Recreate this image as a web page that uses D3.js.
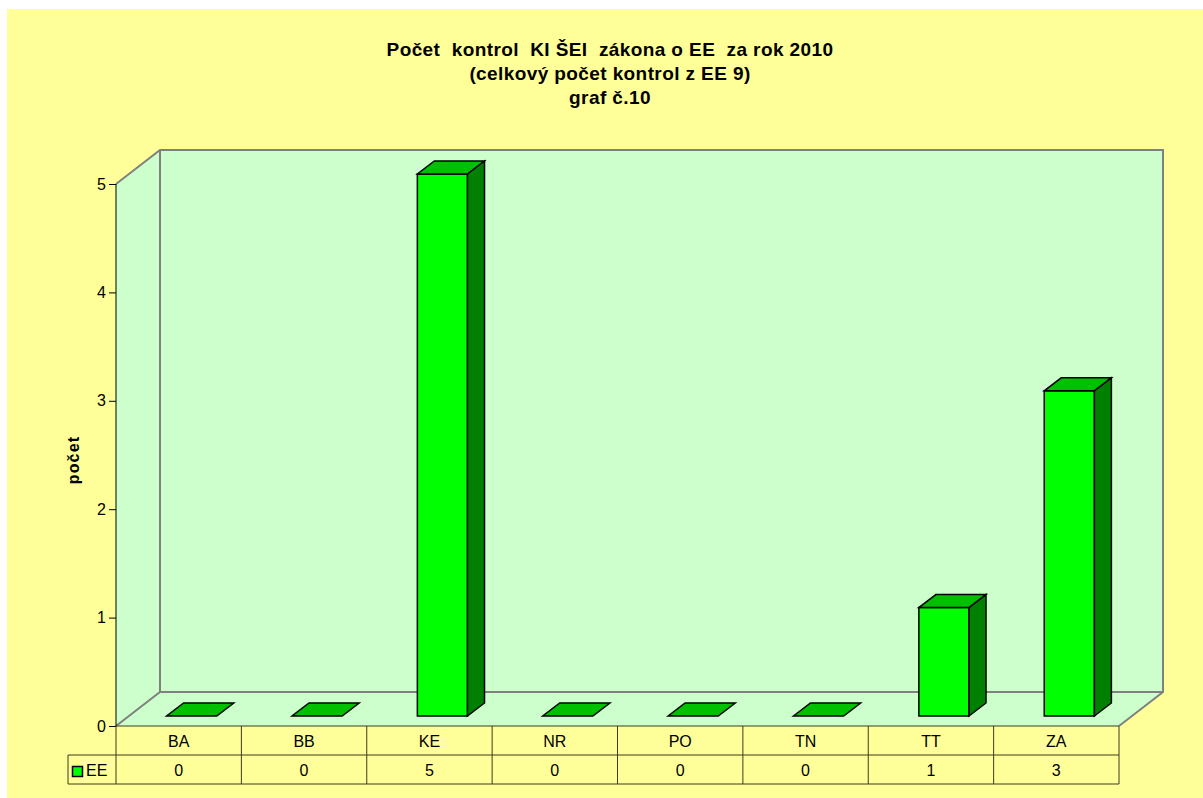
<!DOCTYPE html>
<html><head><meta charset="utf-8">
<script src="https://cdn.jsdelivr.net/npm/d3@7"></script>
<style>body{margin:0;background:#fff}svg{display:block}text{white-space:pre}</style>
</head><body>
<script>
const categories = ["BA","BB","KE","NR","PO","TN","TT","ZA"];
const seriesName = "EE";
const values = [0,0,5,0,0,0,1,3];
const yTicks = [0,1,2,3,4,5];
const titleLines = ["Počet  kontrol  KI ŠEI  zákona o EE  za rok 2010","(celkový počet kontrol z EE 9)","graf č.10"];
const yLabel = "počet";

const W = 1203, H = 798;
const svg = d3.select("body").append("svg").attr("width", W).attr("height", H);
svg.append("rect").attr("x",7).attr("y",9).attr("width",W-7).attr("height",H-9).attr("fill","#FFFF99");

const x = d3.scaleBand().domain(categories).range([116,1119]).padding(0);
const y = d3.scaleLinear().domain([0,5]).range([726,184]);
const DX = 44, DY = -34;        // total depth
const fdx = 13, fdy = -10;      // gap before bar
const bdx = 17, bdy = -13;      // bar depth

const wallStroke = "#808080";
const x0 = x.range()[0], x1 = x.range()[1];
const yb = y(0), yt = y(5);
const pts = a => a.map(p=>p.join(",")).join(" ");
svg.append("polygon").attr("points", pts([[x0+DX,yt+DY],[x1+DX,yt+DY],[x1+DX,yb+DY],[x0+DX,yb+DY]])).attr("fill","#CCFFCC");
svg.append("polygon").attr("points", pts([[x0,yt],[x0+DX,yt+DY],[x0+DX,yb+DY],[x0,yb]])).attr("fill","#CCFFCC");
svg.append("polygon").attr("points", pts([[x0,yb],[x0+DX,yb+DY],[x1+DX,yb+DY],[x1,yb]])).attr("fill","#CCFFCC");
const g = svg.append("g").attr("fill","none").attr("stroke",wallStroke).attr("stroke-width",2);
g.append("polyline").attr("points", pts([[x0,yt],[x0+DX,yt+DY],[x1+DX,yt+DY],[x1+DX,yb+DY],[x1,yb]]));
g.append("polyline").attr("points", pts([[x0,yb],[x0+DX,yb+DY],[x1+DX,yb+DY]]));
g.append("line").attr("x1",x0+DX).attr("y1",yt+DY).attr("x2",x0+DX).attr("y2",yb+DY);

const font = "Arial, 'Liberation Sans', sans-serif";
// y axis
const ax = svg.append("g").attr("transform",`translate(${x0},0)`)
  .call(d3.axisLeft(y).tickValues(yTicks).tickFormat(d3.format("d")).tickSize(7).tickPadding(3));
ax.select(".domain").attr("stroke","#000").attr("d",`M0,${yt}V${yb}`);
ax.selectAll(".tick line").attr("stroke","#000");
ax.selectAll("text").attr("font-family",font).attr("font-size",16).attr("fill","#000");

// bars
const bw = x.bandwidth();
const bars = svg.append("g").attr("stroke","#000").attr("stroke-width",1.5).attr("stroke-linejoin","miter");
categories.forEach((c,i)=>{
  const v = values[i];
  const L = x(c) + bw*0.30 + fdx, R = x(c) + bw*0.70 + fdx;
  const B = y(0) + fdy, T = y(v) + fdy;
  if (v === 0) {
    bars.append("polygon").attr("points", pts([[L,B],[R,B],[R+bdx,B+bdy],[L+bdx,B+bdy]])).attr("fill","#00C000");
  } else {
    bars.append("polygon").attr("points", pts([[L,B],[R,B],[R,T],[L,T]])).attr("fill","#00FF00");
    bars.append("polygon").attr("points", pts([[L,T],[R,T],[R+bdx,T+bdy],[L+bdx,T+bdy]])).attr("fill","#00C000");
    bars.append("polygon").attr("points", pts([[R,B],[R+bdx,B+bdy],[R+bdx,T+bdy],[R,T]])).attr("fill","#008000");
  }
});

// data table
const tStroke = "#3d3d1f";
const r0 = 726, r1 = 755, r2 = 784, legL = 68;
const tg = svg.append("g").attr("stroke",tStroke).attr("stroke-width",1).attr("fill","none");
tg.append("line").attr("x1",x0).attr("x2",x1).attr("y1",r0).attr("y2",r0);
tg.append("line").attr("x1",legL).attr("x2",x1).attr("y1",r1).attr("y2",r1);
tg.append("line").attr("x1",legL).attr("x2",x1).attr("y1",r2).attr("y2",r2);
tg.append("line").attr("x1",legL).attr("x2",legL).attr("y1",r1).attr("y2",r2);
categories.forEach(c=>{
  tg.append("line").attr("x1",x(c)).attr("x2",x(c)).attr("y1",r0).attr("y2",r2);
});
tg.append("line").attr("x1",x1).attr("x2",x1).attr("y1",r0).attr("y2",r2);
const tt = svg.append("g").attr("font-family",font).attr("font-size",16).attr("fill","#000").attr("text-anchor","middle");
categories.forEach((c,i)=>{
  tt.append("text").attr("x",x(c)+bw/2).attr("y",(r0+r1)/2+6).text(c);
  tt.append("text").attr("x",x(c)+bw/2).attr("y",(r1+r2)/2+6).text(values[i]);
});
svg.append("rect").attr("x",72.5).attr("y",766.5).attr("width",10).attr("height",10).attr("fill","#00FF00").attr("stroke","#000").attr("stroke-width",1.5);
svg.append("text").attr("x",86).attr("y",(r1+r2)/2+6).attr("font-family",font).attr("font-size",16).text(seriesName);

// title
const ti = svg.append("g").attr("font-family",font).attr("font-weight","bold").attr("font-size",19)
  .attr("letter-spacing",0.4).attr("text-anchor","middle");
titleLines.forEach((t,i)=>{
  ti.append("text").attr("x",610).attr("y",56+i*24).text(t);
});
// y label
svg.append("text").attr("transform","translate(79,460) rotate(-90)").attr("text-anchor","middle")
  .attr("font-family",font).attr("font-weight","bold").attr("font-size",16).attr("letter-spacing",1.2).text(yLabel);
</script>
</body></html>
